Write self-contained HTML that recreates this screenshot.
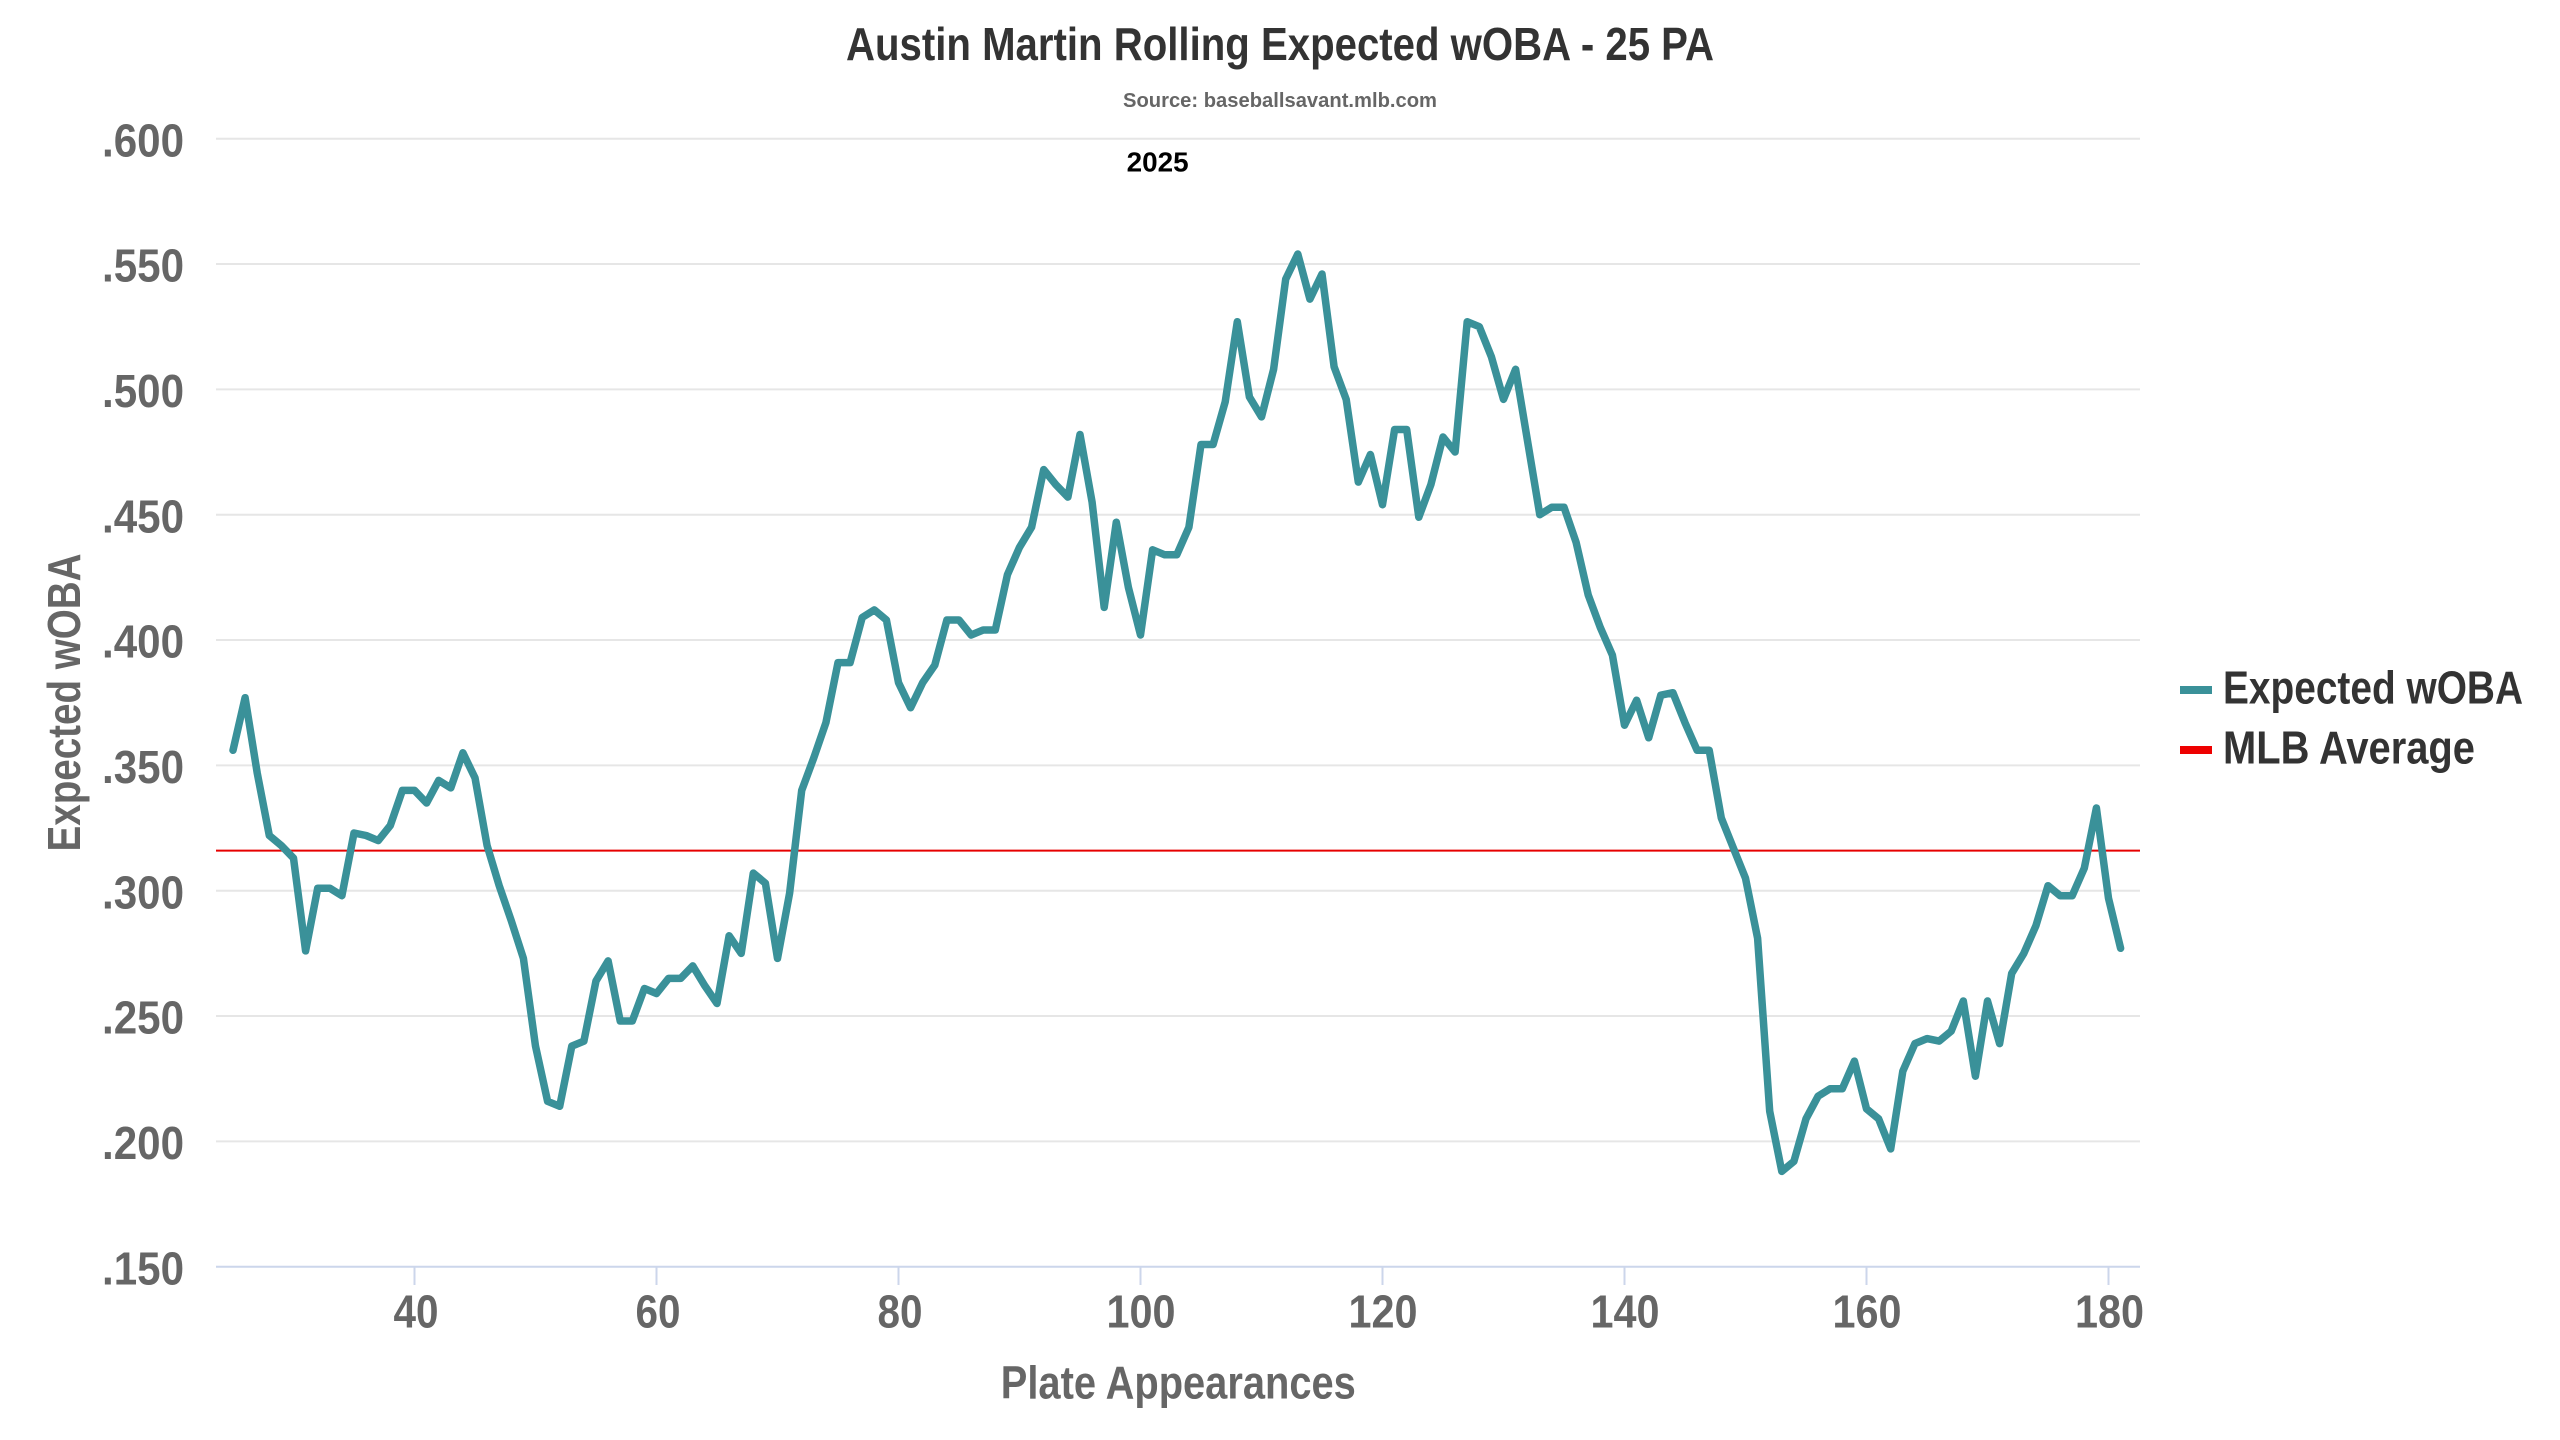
<!DOCTYPE html>
<html>
<head>
<meta charset="utf-8">
<style>
  html, body { margin:0; padding:0; background:#ffffff; }
  body { width:2560px; height:1440px; overflow:hidden; }
  svg { display:block; }
  text { font-family: "Liberation Sans Narrow", "Liberation Sans", sans-serif; font-weight: bold; }
</style>
</head>
<body>
<svg width="2560" height="1440" viewBox="0 0 2560 1440" xmlns="http://www.w3.org/2000/svg">
  <rect x="0" y="0" width="2560" height="1440" fill="#ffffff"/>

  <!-- Title -->
  <text x="1280" y="60" text-anchor="middle" font-size="46" fill="#333333" textLength="868" lengthAdjust="spacingAndGlyphs">Austin Martin Rolling Expected wOBA - 25 PA</text>
  <text x="1280" y="107" text-anchor="middle" font-size="20" fill="#666666" textLength="314" lengthAdjust="spacingAndGlyphs">Source: baseballsavant.mlb.com</text>

  <!-- Gridlines -->
  <g stroke="#e6e6e6" stroke-width="2">
    <line x1="216" y1="138.7" x2="2140" y2="138.7"/>
    <line x1="216" y1="264.0" x2="2140" y2="264.0"/>
    <line x1="216" y1="389.4" x2="2140" y2="389.4"/>
    <line x1="216" y1="514.7" x2="2140" y2="514.7"/>
    <line x1="216" y1="640.0" x2="2140" y2="640.0"/>
    <line x1="216" y1="765.4" x2="2140" y2="765.4"/>
    <line x1="216" y1="890.7" x2="2140" y2="890.7"/>
    <line x1="216" y1="1016.0" x2="2140" y2="1016.0"/>
    <line x1="216" y1="1141.4" x2="2140" y2="1141.4"/>
  </g>

  <!-- X axis line and ticks -->
  <g stroke="#ccd6eb" stroke-width="2">
    <line x1="216" y1="1266.7" x2="2140" y2="1266.7"/>
    <line x1="414.5" y1="1266.7" x2="414.5" y2="1285"/>
    <line x1="656.5" y1="1266.7" x2="656.5" y2="1285"/>
    <line x1="898.5" y1="1266.7" x2="898.5" y2="1285"/>
    <line x1="1140.5" y1="1266.7" x2="1140.5" y2="1285"/>
    <line x1="1382.5" y1="1266.7" x2="1382.5" y2="1285"/>
    <line x1="1624.5" y1="1266.7" x2="1624.5" y2="1285"/>
    <line x1="1866.5" y1="1266.7" x2="1866.5" y2="1285"/>
    <line x1="2108.5" y1="1266.7" x2="2108.5" y2="1285"/>
  </g>

  <!-- Y labels -->
  <g font-size="46" fill="#666666" text-anchor="end">
    <text x="184" y="156.3" textLength="82" lengthAdjust="spacingAndGlyphs">.600</text>
    <text x="184" y="281.6" textLength="82" lengthAdjust="spacingAndGlyphs">.550</text>
    <text x="184" y="407.0" textLength="82" lengthAdjust="spacingAndGlyphs">.500</text>
    <text x="184" y="532.3" textLength="82" lengthAdjust="spacingAndGlyphs">.450</text>
    <text x="184" y="657.6" textLength="82" lengthAdjust="spacingAndGlyphs">.400</text>
    <text x="184" y="783.0" textLength="82" lengthAdjust="spacingAndGlyphs">.350</text>
    <text x="184" y="908.3" textLength="82" lengthAdjust="spacingAndGlyphs">.300</text>
    <text x="184" y="1033.6" textLength="82" lengthAdjust="spacingAndGlyphs">.250</text>
    <text x="184" y="1159.0" textLength="82" lengthAdjust="spacingAndGlyphs">.200</text>
    <text x="184" y="1284.3" textLength="82" lengthAdjust="spacingAndGlyphs">.150</text>
  </g>

  <!-- X labels -->
  <g font-size="46" fill="#666666" text-anchor="middle">
    <text x="416" y="1327.7" textLength="45" lengthAdjust="spacingAndGlyphs">40</text>
    <text x="658" y="1327.7" textLength="45" lengthAdjust="spacingAndGlyphs">60</text>
    <text x="900" y="1327.7" textLength="45" lengthAdjust="spacingAndGlyphs">80</text>
    <text x="1141" y="1327.7" textLength="69" lengthAdjust="spacingAndGlyphs">100</text>
    <text x="1383" y="1327.7" textLength="69" lengthAdjust="spacingAndGlyphs">120</text>
    <text x="1625" y="1327.7" textLength="69" lengthAdjust="spacingAndGlyphs">140</text>
    <text x="1867" y="1327.7" textLength="69" lengthAdjust="spacingAndGlyphs">160</text>
    <text x="2109.5" y="1327.7" textLength="69" lengthAdjust="spacingAndGlyphs">180</text>
  </g>

  <!-- Axis titles -->
  <text x="1178.3" y="1398.3" text-anchor="middle" font-size="46" fill="#666666" textLength="355" lengthAdjust="spacingAndGlyphs">Plate Appearances</text>
  <text transform="translate(80,702.5) rotate(-90)" x="0" y="0" text-anchor="middle" font-size="46" fill="#666666" textLength="298" lengthAdjust="spacingAndGlyphs">Expected wOBA</text>

  <!-- 2025 label -->
  <text x="1157.6" y="171.7" text-anchor="middle" font-size="28" fill="#000000" textLength="62" lengthAdjust="spacingAndGlyphs">2025</text>

  <!-- MLB average line -->
  <line x1="216" y1="850.6" x2="2140" y2="850.6" stroke="#e60000" stroke-width="2"/>

  <!-- Series -->
  <polyline fill="none" stroke="#3a9199" stroke-width="7.5" stroke-linejoin="round" stroke-linecap="round" points="
233.0,750.3 245.1,697.7 257.2,772.9 269.3,835.5 281.4,845.6 293.5,858.1 305.6,950.9 317.7,888.2 329.8,888.2 341.9,895.7
354.0,833.0 366.1,835.5 378.2,840.6 390.3,825.5 402.4,790.4 414.5,790.4 426.6,803.0 438.7,780.4 450.8,787.9 462.9,752.8
475.0,777.9 487.1,845.6 499.2,885.7 511.3,920.8 523.4,958.4 535.5,1046.1 547.6,1101.3 559.7,1106.3 571.8,1046.1 583.9,1041.1
596.0,980.9 608.1,960.9 620.2,1021.0 632.3,1021.0 644.4,988.5 656.5,993.5 668.6,978.4 680.7,978.4 692.8,965.9 704.9,985.9
717.0,1003.5 729.1,935.8 741.2,953.4 753.3,873.1 765.4,883.2 777.5,958.4 789.6,893.2 801.7,790.4 813.8,757.8 825.9,722.7
838.0,662.6 850.1,662.6 862.2,617.5 874.3,609.9 886.4,620.0 898.5,682.6 910.6,707.7 922.7,682.6 934.8,665.1 946.9,620.0
959.0,620.0 971.1,635.0 983.2,630.0 995.3,630.0 1007.4,574.8 1019.5,547.3 1031.6,527.2 1043.7,469.6 1055.8,484.6 1067.9,497.1
1080.0,434.5 1092.1,502.2 1104.2,607.4 1116.3,522.2 1128.4,587.4 1140.5,635.0 1152.6,549.8 1164.7,554.8 1176.8,554.8 1188.9,527.2
1201.0,444.5 1213.1,444.5 1225.2,401.9 1237.3,321.7 1249.4,396.9 1261.5,416.9 1273.6,369.3 1285.7,279.1 1297.8,254.0 1309.9,299.1
1322.0,274.0 1334.1,366.8 1346.2,399.4 1358.3,482.1 1370.4,454.5 1382.5,504.7 1394.6,429.5 1406.7,429.5 1418.8,517.2 1430.9,484.6
1443.0,437.0 1455.1,452.0 1467.2,321.7 1479.3,326.7 1491.4,356.8 1503.5,399.4 1515.6,369.3 1527.7,442.0 1539.8,514.7 1551.9,507.2
1564.0,507.2 1576.1,542.3 1588.2,594.9 1600.3,627.5 1612.4,655.1 1624.5,725.2 1636.6,700.2 1648.7,737.8 1660.8,695.2 1672.9,692.7
1685.0,722.7 1697.1,750.3 1709.2,750.3 1721.3,818.0 1733.4,848.1 1745.5,878.2 1757.6,938.3 1769.7,1111.3 1781.8,1171.4 1793.9,1161.4
1806.0,1118.8 1818.1,1096.2 1830.2,1088.7 1842.3,1088.7 1854.4,1061.1 1866.5,1108.8 1878.6,1118.8 1890.7,1148.9 1902.8,1071.2 1914.9,1043.6
1927.0,1038.6 1939.1,1041.1 1951.2,1031.1 1963.3,1001.0 1975.4,1076.2 1987.5,1001.0 1999.6,1043.6 2011.7,973.4 2023.8,953.4 2035.9,925.8
2048.0,885.7 2060.1,895.7 2072.2,895.7 2084.3,868.1 2096.4,808.0 2108.5,898.2 2120.6,948.3"/>

  <!-- Legend -->
  <line x1="2180" y1="690" x2="2212" y2="690" stroke="#3a9199" stroke-width="8"/>
  <text x="2223" y="703.3" font-size="46" fill="#333333" textLength="300" lengthAdjust="spacingAndGlyphs">Expected wOBA</text>
  <line x1="2180" y1="750" x2="2212" y2="750" stroke="#ee0000" stroke-width="8"/>
  <text x="2223" y="763.3" font-size="46" fill="#333333" textLength="252" lengthAdjust="spacingAndGlyphs">MLB Average</text>
</svg>
</body>
</html>
